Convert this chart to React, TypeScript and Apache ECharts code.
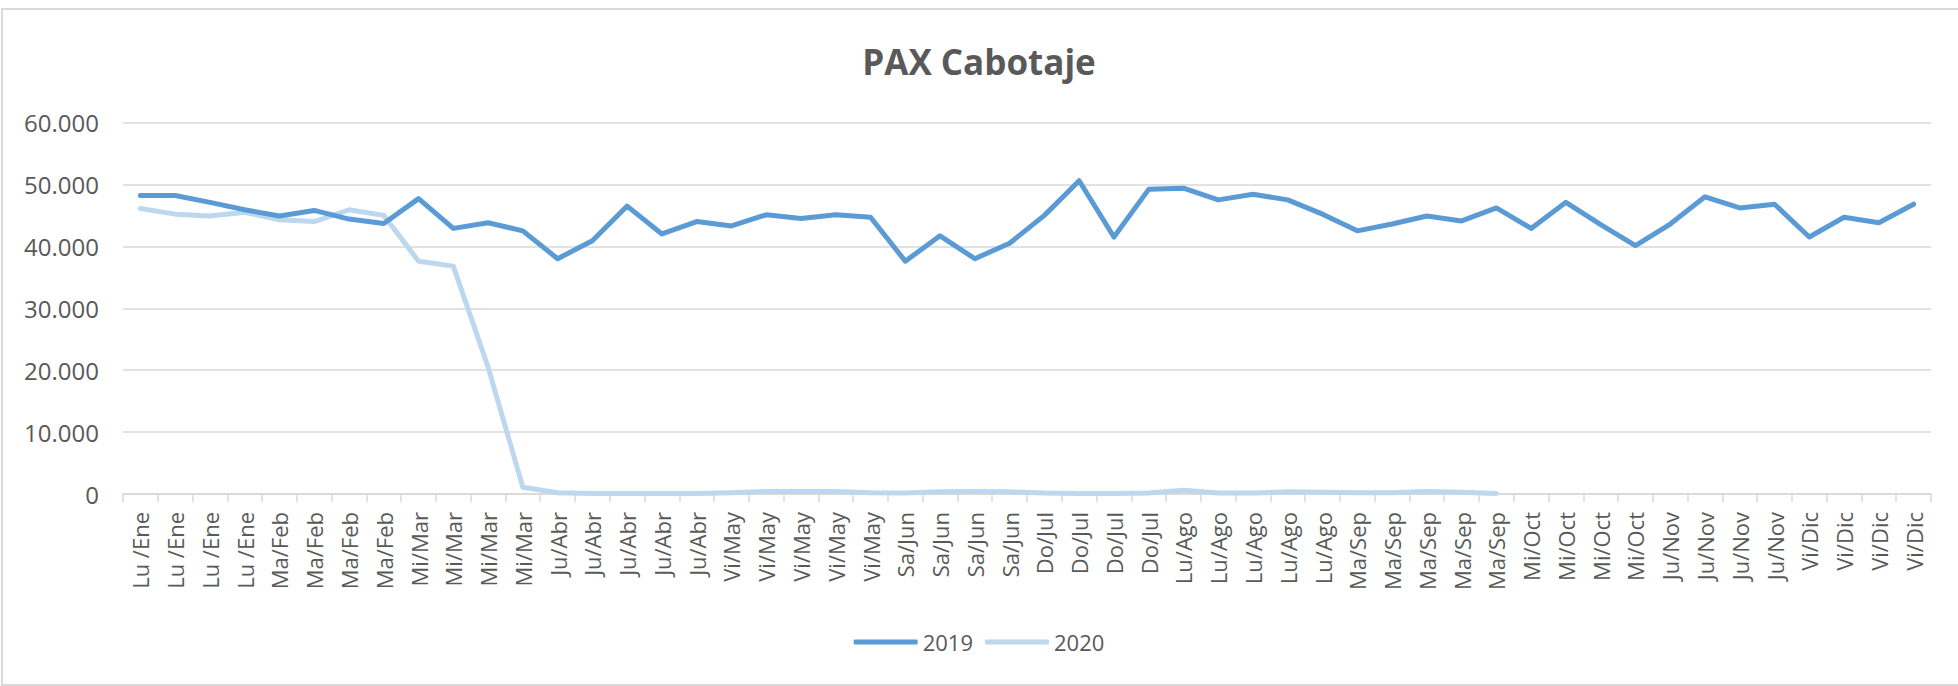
import React, { useEffect, useRef } from "react";
import * as echarts from "echarts";

const categories: string[] = [
  "Lu /Ene", "Lu /Ene", "Lu /Ene", "Lu /Ene",
  "Ma/Feb", "Ma/Feb", "Ma/Feb", "Ma/Feb",
  "Mi/Mar", "Mi/Mar", "Mi/Mar", "Mi/Mar",
  "Ju/Abr", "Ju/Abr", "Ju/Abr", "Ju/Abr", "Ju/Abr",
  "Vi/May", "Vi/May", "Vi/May", "Vi/May", "Vi/May",
  "Sa/Jun", "Sa/Jun", "Sa/Jun", "Sa/Jun",
  "Do/Jul", "Do/Jul", "Do/Jul", "Do/Jul",
  "Lu/Ago", "Lu/Ago", "Lu/Ago", "Lu/Ago", "Lu/Ago",
  "Ma/Sep", "Ma/Sep", "Ma/Sep", "Ma/Sep", "Ma/Sep",
  "Mi/Oct", "Mi/Oct", "Mi/Oct", "Mi/Oct",
  "Ju/Nov", "Ju/Nov", "Ju/Nov", "Ju/Nov",
  "Vi/Dic", "Vi/Dic", "Vi/Dic", "Vi/Dic",
];

const pax2019: number[] = [
  48200, 48200, 47100, 45900,
  44900, 45800, 44400, 43700,
  47700, 42900, 43800, 42500,
  38000, 40900, 46500, 42000, 44000,
  43300, 45100, 44500, 45100, 44700,
  37600, 41700, 38000, 40500,
  45000, 50600, 41500, 49200,
  49400, 47500, 48400, 47500, 45200,
  42500, 43600, 44900, 44100, 46200,
  42900, 47100, 43500, 40100,
  43600, 48000, 46200, 46800,
  41500, 44700, 43800, 46800,
];

const pax2020: number[] = [
  46100, 45200, 44900, 45500,
  44300, 44000, 45900, 45000,
  37600, 36800, 20500, 1100,
  200, 100, 100, 100, 100,
  200, 400, 400, 400, 200,
  150, 350, 400, 350,
  150, 100, 100, 150,
  600, 150, 150, 350, 300,
  200, 200, 400, 300, 100,
];

const yTicks: number[] = [0, 10000, 20000, 30000, 40000, 50000, 60000];

const FONT = "'Open Sans', sans-serif";
const TEXT = "#595959";
const GRID = "#d9d9d9";

function fmt(v: number): string {
  return String(Math.round(v)).replace(/\B(?=(\d{3})+(?!\d))/g, ".");
}

export default function App() {
  const ref = useRef<HTMLDivElement>(null);
  useEffect(() => {
    if (!ref.current) return;
    const chart = echarts.init(ref.current, undefined, { renderer: "svg" });
    chart.setOption({
      animation: false,
      backgroundColor: "#ffffff",
      title: {
        text: "PAX Cabotaje",
        left: "center",
        top: 39,
        textStyle: { fontFamily: FONT, fontWeight: "bold", fontSize: 35, color: TEXT },
      },
      graphic: [
        {
          type: "rect",
          shape: { x: 2, y: 9, width: 1970, height: 676 },
          style: { fill: "none", stroke: GRID, lineWidth: 2 },
          silent: true,
        },
      ],
      legend: {
        bottom: 28,
        left: "center",
        data: ["2019", "2020"],
        icon: "roundRect",
        itemWidth: 64,
        itemHeight: 5,
        itemGap: 12,
        textStyle: { fontFamily: FONT, fontSize: 22, color: TEXT },
      },
      grid: { left: 123, right: 27, top: 122.5, bottom: 192, containLabel: false },
      xAxis: {
        type: "category",
        data: categories,
        boundaryGap: true,
        axisLine: { show: true, lineStyle: { color: GRID, width: 1.5 } },
        axisTick: { show: true, length: 8, lineStyle: { color: GRID, width: 1.5 } },
        axisLabel: {
          interval: 0,
          rotate: 90,
          margin: 18,
          fontFamily: FONT,
          fontSize: 22,
          color: TEXT,
        },
      },
      yAxis: {
        type: "value",
        min: yTicks[0],
        max: yTicks[yTicks.length - 1],
        interval: yTicks[1] - yTicks[0],
        axisLine: { show: false },
        axisTick: { show: false },
        axisLabel: {
          margin: 24,
          fontFamily: FONT,
          fontSize: 24,
          color: TEXT,
          formatter: (v: number) => fmt(v),
        },
        splitLine: { show: true, lineStyle: { color: GRID, width: 1.5 } },
      },
      series: [
        {
          name: "2019",
          type: "line",
          data: pax2019,
          symbol: "none",
          color: "#5b9bd5",
          lineStyle: { width: 5, color: "#5b9bd5", join: "round", cap: "round" },
          z: 3,
        },
        {
          name: "2020",
          type: "line",
          data: pax2020,
          symbol: "none",
          color: "#bdd7ee",
          lineStyle: { width: 5, color: "#bdd7ee", join: "round", cap: "round" },
          z: 2,
        },
      ],
    });
    return () => chart.dispose();
  }, []);
  return (
    <div
      ref={ref}
      style={{ position: "absolute", left: 0, top: 0, width: 1958, height: 686 }}
    />
  );
}
